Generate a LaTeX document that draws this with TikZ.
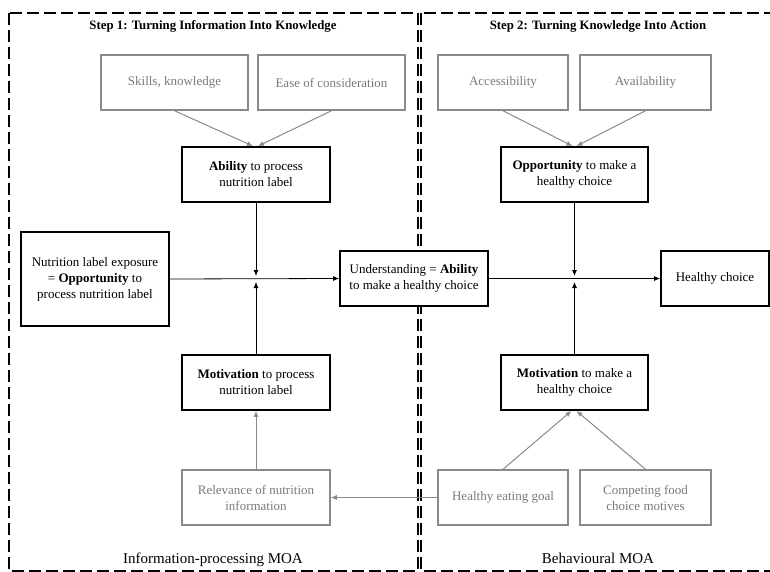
\documentclass[tikz,border=0pt]{standalone}
\usepackage{fontspec}
\setmainfont{Liberation Serif}
\usetikzlibrary{arrows.meta,calc}
\definecolor{gr}{HTML}{8A8A8A}
\definecolor{grtext}{HTML}{7A7A7A}
\begin{document}
\begin{tikzpicture}[x=1pt,y=-1pt,
  box/.style={draw=black,fill=white,line width=1.8pt,minimum width=#1,minimum height=55pt,align=center,inner sep=2pt,font=\fontsize{13}{16}\selectfont,text=black},
  gbox/.style={draw=gr,fill=white,line width=1.5pt,minimum width=#1,minimum height=55pt,align=center,inner sep=2pt,font=\fontsize{13}{16}\selectfont,text=grtext},
  frame/.style={draw=black,line width=1.3pt,dash pattern=on 12pt off 5pt},
  blk/.style={draw=black,line width=0.8pt,-{Latex[length=6pt,width=5pt]}},
  gar/.style={draw=gr,line width=1pt,-{Latex[length=6pt,width=5pt]}},
  ttl/.style={font=\bfseries\fontsize{12.8}{15}\selectfont},
  lbl/.style={font=\fontsize{15}{18}\selectfont,anchor=base}]
\useasboundingbox (0,0) rectangle (770,572);
\fill[white] (0,0) rectangle (770,572);
% frames
\draw[frame] (9,13) rectangle (418,571);
\draw[frame] (421,13) rectangle (780,571);
% titles
\node[ttl] (t1) at (213,26) {Step 1: Turning Information Into Knowledge};
\node[ttl] (t2) at (598,26) {Step 2: Turning Knowledge Into Action};
\node[lbl] (l1) at (213,563) {Information-processing MOA};
\node[lbl] (l2) at (598,563) {Behavioural MOA};
% left column
\node[gbox=147pt] (skills) at (174.5,82.5) {Skills, knowledge};
\node[gbox=147pt] (ease) at (331.5,82.5) {Ease of consideration};
\node[box=148pt] (abil) at (256,174.5) {\textbf{Ability} to process\\nutrition label};
\node[box=148pt,minimum height=94pt] (nutr) at (95,279) {Nutrition label exposure\\= \textbf{Opportunity} to\\process nutrition label};
\node[box=148pt] (mot1) at (256,382.5) {\textbf{Motivation} to process\\nutrition label};
\node[gbox=148pt] (rel) at (256,497.5) {Relevance of nutrition\\information};
% right column
\node[gbox=130pt] (acc) at (503,82.5) {Accessibility};
\node[gbox=131pt] (avail) at (645.5,82.5) {Availability};
\node[box=147pt] (opp) at (574.5,174.5) {\textbf{Opportunity} to make a\\healthy choice};
\node[box=108pt] (hc) at (715,278.5) {Healthy choice};
\node[box=147pt] (mot2) at (574.5,382.5) {\textbf{Motivation} to make a\\healthy choice};
\node[gbox=130pt] (heg) at (503,497.5) {Healthy eating goal};
\node[gbox=131pt] (comp) at (645.5,497.5) {Competing food\\choice motives};
% junctions
\coordinate (j1) at (256,279);
\coordinate (j2) at (574.5,279);
% connectors
\draw[gar] (skills.south) -- ($(abil.north)+(-3,0)$);
\draw[gar] (ease.south) -- ($(abil.north)+(2,0)$);
\draw[gar] (acc.south) -- ($(opp.north)+(-2,0)$);
\draw[gar] (avail.south) -- ($(opp.north)+(2,0)$);
\draw[blk] (abil.south) -- ($(j1)+(0,-3)$);
\draw[blk] (mot1.north) -- ($(j1)+(0,3)$);
\draw[blk] (opp.south) -- ($(j2)+(0,-3)$);
\draw[blk] (mot2.north) -- ($(j2)+(0,3)$);
\draw[gar] (rel.north) -- (mot1.south);
\draw[gar] (heg.west) -- (rel.east);
\draw[gar] (heg.north) -- ($(mot2.south)+(-3,0)$);
\draw[gar] (comp.north) -- ($(mot2.south)+(2,0)$);
% understanding box on top of the divider
\node[box=148pt] (und) at (414,278.5) {Understanding = \textbf{Ability}\\to make a healthy choice};
\draw[blk] (nutr.east) -- (und.west);
\draw[blk] (und.east) -- (hc.west);
\end{tikzpicture}
\end{document}
